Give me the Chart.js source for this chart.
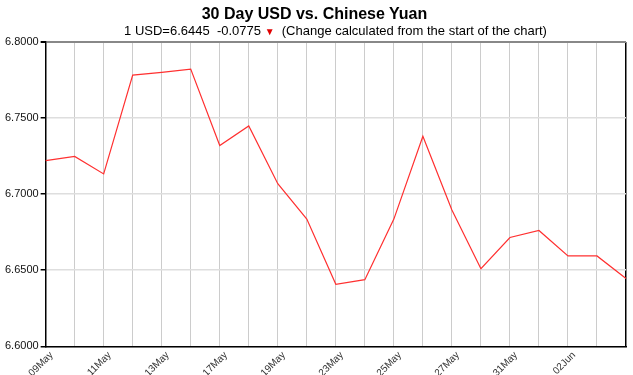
<!DOCTYPE html>
<html>
<head>
<meta charset="utf-8">
<script src="https://cdn.jsdelivr.net/npm/chart.js@4"></script>
<style>
  body { margin: 0; background: #fff; }
  .wrap { position: relative; width: 633px; height: 375px; font-family: "Liberation Sans", Arial, sans-serif; }
  .title { position: absolute; top: 5px; left: -2px; width: 633px; text-align: center; font-size: 16px; font-weight: bold; color: #000; }
  .sub { position: absolute; top: 23px; left: 19px; width: 633px; text-align: center; font-size: 13px; color: #000; white-space: pre; }
  .down { color: #e00000; font-size: 10px; }
  canvas { position: absolute; top: 0; left: 0; }
</style>
</head>
<body>
<div class="wrap">
  <canvas id="fx" width="633" height="375"></canvas>
  <div class="title">30 Day USD vs. Chinese Yuan</div>
  <div class="sub">1 USD=6.6445  -0.0775 <span class="down">&#9660;</span>  (Change calculated from the start of the chart)</div>
</div>
<script>
let days = ['09May','10May','11May','12May','13May','16May','17May','18May','19May','20May',
    '23May','24May','25May','26May','27May','30May','31May','01Jun','02Jun','03Jun','06Jun']
let rates = [6.7220, 6.7248, 6.7133, 6.7782, 6.7800, 6.7822, 6.7320, 6.7448, 6.7069, 6.6836,
    6.6407, 6.6438, 6.6836, 6.7380, 6.6896, 6.6510, 6.6715, 6.6761, 6.6594, 6.6594, 6.6445]
let yTicks = [6.60, 6.65, 6.70, 6.75, 6.80]

let graph = document.querySelector('#fx').getContext('2d');

var chart = new Chart(graph, {
    type: 'line',
    data: {
        labels: days,
        datasets: [
            {
                data: rates,
                borderColor: '#ff3030',
                borderWidth: 1.2,
                pointRadius: 0,
                tension: 0,
                fill: false
            }
        ]
    },
    options: {
        responsive: false,
        animation: false,
        layout: { padding: { top: 42, left: 3, right: 7, bottom: -7 } },
        plugins: {
            legend: { display: false },
            tooltip: { enabled: false }
        },
        scales: {
            x: {
                offset: false,
                border: { color: '#000', width: 1.5 },
                // rotated labels reserve room on the right, not needed here
                afterFit: (axis) => { axis.paddingRight = 0; },
                grid: {
                    drawTicks: false,
                    // right edge of the plot is a dark frame line
                    color: (ctx) => ctx.index === days.length - 1 ? '#000' : '#cccccc',
                    lineWidth: (ctx) => ctx.index === days.length - 1 ? 1.5 : 1
                },
                ticks: {
                    autoSkip: false,
                    minRotation: 45,
                    maxRotation: 45,
                    padding: 3,
                    labelOffset: 6,
                    color: '#333',
                    font: { family: 'Liberation Sans', size: 10 },
                    callback: function (val, index) {
                        return (index % 2 === 0 && index < days.length - 1) ? days[index] : '';
                    }
                }
            },
            y: {
                min: yTicks[0],
                max: yTicks[yTicks.length - 1],
                border: { color: '#000', width: 1.5 },
                afterBuildTicks: (axis) => { axis.ticks = yTicks.map(v => ({ value: v })); },
                grid: {
                    tickLength: 5,
                    tickColor: '#000',
                    // top frame line is grey and a bit heavier
                    color: (ctx) => ctx.tick && ctx.tick.value === 6.8 ? '#888' : '#dedede',
                    lineWidth: (ctx) => ctx.tick && ctx.tick.value === 6.8 ? 2 : 1.5
                },
                ticks: {
                    padding: 2,
                    color: '#111',
                    font: { family: 'Liberation Sans', size: 11 },
                    callback: (v) => Number(v).toFixed(4)
                }
            }
        }
    }
});
</script>
</body>
</html>
